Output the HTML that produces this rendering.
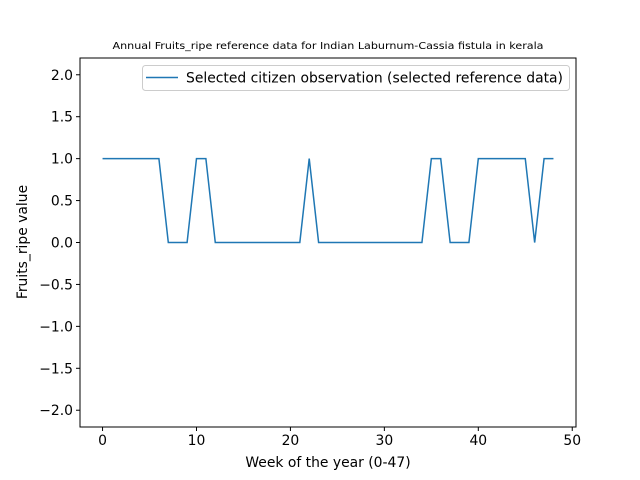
<!DOCTYPE html>
<html><head><meta charset="utf-8"><style>
body{margin:0;background:#fff}
svg{display:block;font-family:"DejaVu Sans","Liberation Sans",sans-serif}
</style></head><body>
<svg id="chart" width="640" height="480">
<rect width="640" height="480" fill="#fff"/>
<text x="328" y="49" font-size="9.7" text-anchor="middle" textLength="431" lengthAdjust="spacingAndGlyphs">Annual Fruits_ripe reference data for Indian Laburnum-Cassia fistula in kerala</text>
<g id="axes"></g>
<text x="328" y="467" font-size="13.9" text-anchor="middle">Week of the year (0-47)</text>
<text transform="translate(27,242) rotate(-90)" font-size="13.9" text-anchor="middle">Fruits_ripe value</text>
</svg>
<script>
const weeks=[0,1,2,3,4,5,6,7,8,9,10,11,12,13,14,15,16,17,18,19,20,21,22,23,24,25,26,27,28,29,30,31,32,33,34,35,36,37,38,39,40,41,42,43,44,45,46,47,48];
const values=[1,1,1,1,1,1,1,0,0,0,1,1,0,0,0,0,0,0,0,0,0,0,1,0,0,0,0,0,0,0,0,0,0,0,0,1,1,0,0,0,1,1,1,1,1,1,0,1,1];
const xTicks=[0,10,20,30,40,50];
const yTicks=[-2.0,-1.5,-1.0,-0.5,0.0,0.5,1.0,1.5,2.0];
const L=80,R=576,T=58,B=427;
const xmin=-2.4,xmax=50.4,ymin=-2.2,ymax=2.2;
const sx=v=>L+(v-xmin)/(xmax-xmin)*(R-L);
const sy=v=>B-(v-ymin)/(ymax-ymin)*(B-T);
const NS="http://www.w3.org/2000/svg";
const g=document.getElementById('axes');
function mk(t,a){const e=document.createElementNS(NS,t);for(const k in a)e.setAttribute(k,a[k]);g.appendChild(e);return e;}
xTicks.forEach(v=>{
 const l=mk('line',{x1:sx(v),x2:sx(v),y1:B,y2:B+4,stroke:'#000'});
 
 
 const t=mk('text',{x:sx(v),y:B+18,'font-size':13.9,'text-anchor':'middle'});t.textContent=v;
 
 
});
yTicks.forEach(v=>{
 const l=mk('line',{x1:L-4,x2:L,y1:sy(v),y2:sy(v),stroke:'#000'});
 
 
 const t=mk('text',{x:L-7,y:sy(v)+5,'font-size':13.9,'text-anchor':'end'});t.textContent=(v<0?'\u2212':'')+Math.abs(v).toFixed(1);
 
 
});
const p=mk('polyline',{points:weeks.map((w,i)=>sx(w)+','+sy(values[i])).join(' '),fill:'none',stroke:'#1f77b4','stroke-width':1.5});


const f=mk('rect',{x:L,y:T,width:R-L,height:B-T,fill:'none',stroke:'#000','stroke-width':1});


const lg=mk('rect',{x:142.5,y:65.5,width:427,height:25,rx:3,fill:'#fff','fill-opacity':0.8,stroke:'#ccc'});


const ll=mk('line',{x1:146,x2:178,y1:77.5,y2:77.5,stroke:'#1f77b4','stroke-width':1.5});


const lt=mk('text',{x:186,y:82.5,'font-size':13.9});lt.textContent='Selected citizen observation (selected reference data)';


</script>
</body></html>
